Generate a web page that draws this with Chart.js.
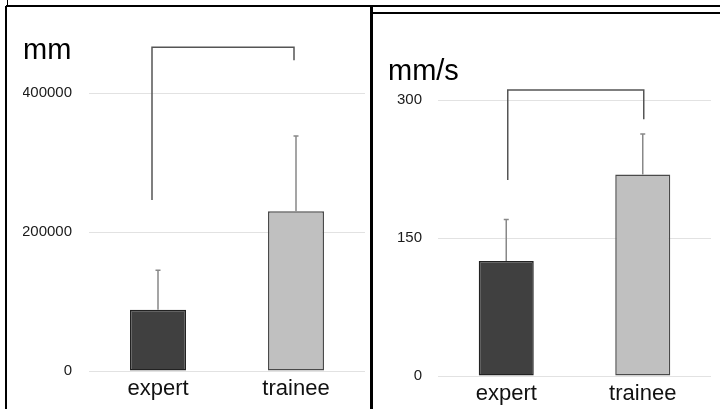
<!doctype html>
<html lang="en">
  <head>
    <meta charset="UTF-8" />
    <title>expert vs trainee</title>
    <style>
      body { margin: 0; background: #fff; }
      .frame { position: relative; width: 720px; height: 409px; overflow: hidden; }
      .ln { position: absolute; background: #000; }
      canvas { position: absolute; }
    </style>
  </head>
  <body>
    <div class="frame">
      <div class="ln" style="left:7px; top:0; width:1px; height:6px"></div>
      <div class="ln" style="left:6px; top:5px; width:714px; height:2px"></div>
      <div class="ln" style="left:5px; top:6px; width:2px; height:403px"></div>
      <div class="ln" style="left:370px; top:5px; width:2.5px; height:404px"></div>
      <div class="ln" style="left:372px; top:12px; width:348px; height:2px"></div>
      <canvas id="distChart" width="362" height="402" style="left:7px; top:7px"></canvas>
      <canvas id="speedChart" width="346" height="394" style="left:374px; top:15px"></canvas>
    </div>
    <script src="https://cdn.jsdelivr.net/npm/chart.js"></script>
    <script>
      const groups = ["expert", "trainee"];

      // path length (mm)
      const distMean = [88000, 230000];
      const distErr = [57000, 108000];
      const distTicks = [0, 200000, 400000];
      const distBracket = [246000, 466000, 447000]; // left foot, top, right foot

      // speed (mm/s)
      const speedMean = [125, 219];
      const speedErr = [45, 44];
      const speedTicks = [0, 150, 300];
      const speedBracket = [213, 311, 279];

      const FONT = "'Liberation Sans', Arial, sans-serif";

      // error bars + significance bracket, drawn through the y scale
      function marks(errs, bracket, shift) {
        return {
          id: "marks",
          afterDatasetsDraw(chart) {
            const ctx = chart.ctx;
            const y = chart.scales.y;
            const bars = chart.getDatasetMeta(0).data;
            const means = chart.data.datasets[0].data;
            ctx.save();
            ctx.strokeStyle = "#888";
            ctx.lineWidth = 1.5;
            bars.forEach((bar, i) => {
              const top = y.getPixelForValue(means[i] + errs[i]);
              ctx.beginPath();
              ctx.moveTo(bar.x, bar.y);
              ctx.lineTo(bar.x, top);
              ctx.moveTo(bar.x - 2.5, top);
              ctx.lineTo(bar.x + 2.5, top);
              ctx.stroke();
            });
            const x0 = bars[0].x + shift[0];
            const x1 = bars[1].x + shift[1];
            ctx.strokeStyle = "#555";
            ctx.lineWidth = 1.5;
            ctx.beginPath();
            ctx.moveTo(x0, y.getPixelForValue(bracket[0]));
            ctx.lineTo(x0, y.getPixelForValue(bracket[1]));
            ctx.lineTo(x1, y.getPixelForValue(bracket[1]));
            ctx.lineTo(x1, y.getPixelForValue(bracket[2]));
            ctx.stroke();
            ctx.restore();
          },
        };
      }

      function makeChart(id, title, means, errs, ticks, bracket, lay) {
        return new Chart(document.getElementById(id), {
          type: "bar",
          data: {
            labels: groups,
            datasets: [
              {
                data: means,
                backgroundColor: ["#404040", "#c0c0c0"],
                borderColor: ["#222", "#4a4a4a"],
                borderWidth: 1.5,
                borderSkipped: false,
                categoryPercentage: 1,
                barPercentage: lay.barPct,
              },
            ],
          },
          options: {
            responsive: false,
            animation: false,
            layout: { padding: { left: lay.padLeft, right: lay.padRight, top: 0, bottom: 0 } },
            plugins: {
              legend: { display: false },
              tooltip: { enabled: false },
              title: {
                display: true,
                text: title,
                align: "start",
                color: "#000",
                font: { family: FONT, size: 29, weight: "normal" },
                padding: { top: lay.titleTop, bottom: lay.titleBottom },
              },
            },
            scales: {
              x: {
                grid: { display: false },
                border: { display: false },
                ticks: { color: "#111", padding: -3, font: { family: FONT, size: 22 } },
                afterFit: (axis) => { axis.height = lay.xHeight; },
              },
              y: {
                min: ticks[0],
                max: ticks[ticks.length - 1],
                afterBuildTicks: (axis) => { axis.ticks = ticks.map((v) => ({ value: v })); },
                grid: { color: "#e2e2e2", lineWidth: 1, drawTicks: false },
                border: { display: false },
                ticks: {
                  color: "#1a1a1a",
                  padding: lay.tickPad,
                  font: { family: FONT, size: 15 },
                  callback: (v) => String(v),
                },
                afterFit: (axis) => { axis.width = lay.yWidth; },
              },
            },
          },
          plugins: [marks(errs, bracket, lay.shift)],
        });
      }

      makeChart("distChart", "mm", distMean, distErr, distTicks, distBracket, {
        barPct: 0.406, padLeft: 16, padRight: 4, titleTop: 27, titleBottom: 24.2,
        xHeight: 38, yWidth: 66, tickPad: 17, shift: [-6, -2],
      });
      makeChart("speedChart", "mm/s", speedMean, speedErr, speedTicks, speedBracket, {
        barPct: 0.403, padLeft: 14, padRight: 9, titleTop: 39.6, titleBottom: 10.6,
        xHeight: 33, yWidth: 50, tickPad: 16, shift: [1.5, 1],
      });
    </script>
  </body>
</html>
